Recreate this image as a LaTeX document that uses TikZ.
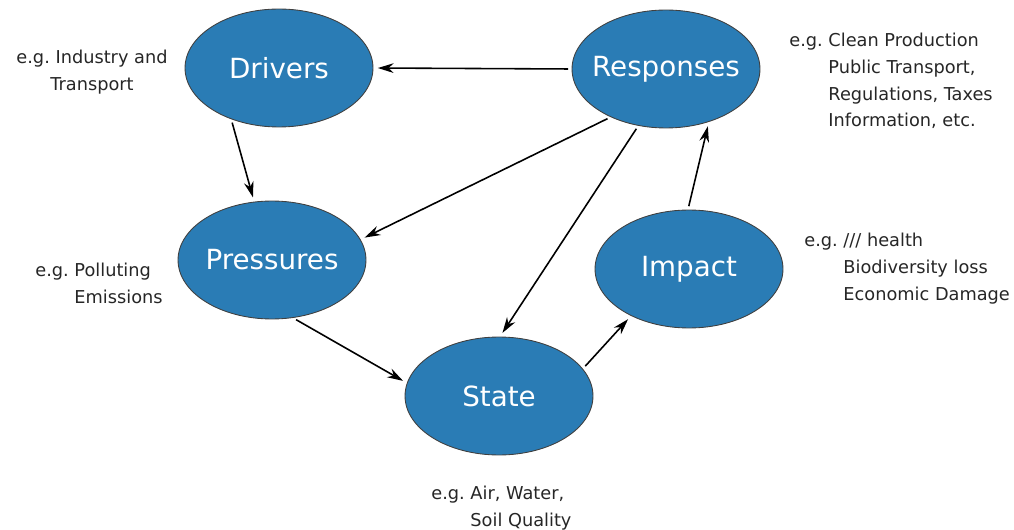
\documentclass[tikz,border=0pt]{standalone}
\usepackage{fontspec}
\setmainfont{DejaVu Sans}
\usetikzlibrary{shapes.geometric,arrows.meta}
\definecolor{dpsirblue}{RGB}{42,124,181}

\begin{document}
\begin{tikzpicture}[x=0.02cm, y=-0.02cm,
  phase/.style={ellipse, draw=black!75, fill=dpsirblue, text=white, line width=0.5pt, inner xsep=-1cm,
    minimum width=3.76cm, minimum height=2.36cm, font=\fontsize{15.8}{18}\selectfont},
  example/.style={inner sep=0pt, text=black!85, font=\fontsize{10.1}{15.2}\selectfont},
  link/.style={-{Stealth[length=9pt,width=5.5pt]}, line width=0.9pt, shorten <=2pt, shorten >=2.5pt}]
\useasboundingbox (0,0) rectangle (1014,530);

% the five stages
\node (drivers) [phase] at (279,68) {Drivers};
\node (responses) [phase] at (666,69) {Responses};
\node (pressures) [phase] at (272,260) {Pressures};
\node (impact) [phase] at (689,269) {Impact};
\node (state) [phase] at (499,396) {State};

% examples next to each stage
\node (drivers-eg) [example, align=center, anchor=north] at (92,50) {e.g.\ Industry and\\ Transport};
\node (responses-eg) [example, align=left, anchor=north west] at (789,33) {e.g.\ Clean Production\\ \phantom{e.g.\ }Public Transport,\\ \phantom{e.g.\ }Regulations, Taxes\\ \phantom{e.g.\ }Information, etc.};
\node (pressures-eg) [example, align=left, anchor=north west] at (35,263) {e.g.\ Polluting\\ \phantom{e.g.\ }Emissions};
\node (impact-eg) [example, align=left, anchor=north west] at (804,233) {e.g.\ /// health\\ \phantom{e.g.\ }Biodiversity loss\\ \phantom{e.g.\ }Economic Damage};
\node (state-eg) [example, align=left, anchor=north west] at (431,486) {e.g.\ Air, Water,\\ \phantom{e.g.\ }Soil Quality};

% the cycle
\draw[link] (responses.west) -- (drivers.east);
\draw[link] (drivers.227) -- (pressures.107);
\draw[link] (responses.221) -- (pressures.13);
\draw[link] (responses.244) -- (state.89);
\draw[link] (pressures.290) -- (state.172);
\draw[link] (state.18) -- (impact.219);
\draw[link] (impact.91) -- (responses.309);
\end{tikzpicture}
\end{document}
